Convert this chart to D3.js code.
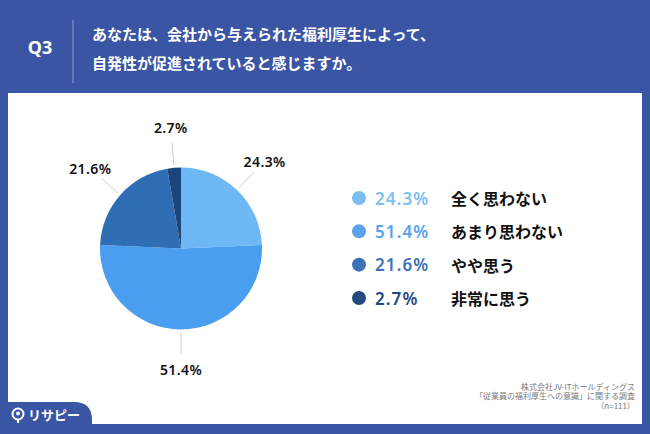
<!DOCTYPE html>
<html>
<head>
<meta charset="utf-8">
<script src="https://cdn.jsdelivr.net/npm/d3@7"></script>
<style>
  body { margin: 0; background: #3a55a3; }
  svg { display: block; font-family: "Noto Sans", "Noto Sans CJK JP", sans-serif; }
</style>
</head>
<body>
<div id="chart"></div>
<script>
// answer categories and shares (%)
const categories = ["全く思わない", "あまり思わない", "やや思う", "非常に思う"];
const values = [24.3, 51.4, 21.6, 2.7];
const colors = ["#6db8f5", "#4a9ef0", "#2f6db4", "#1e457b"];
const legendColors = ["#7cbef2", "#5aa2ec", "#3d72b6", "#23497f"];
const titleLines = ["あなたは、会社から与えられた福利厚生によって、", "自発性が促進されていると感じますか。"];
const sourceLines = ["株式会社JV-ITホールディングス", "「従業員の福利厚生への意識」に関する調査", "（n=111）"];

const width = 650, height = 434;
const blue = "#3a55a3";

const svg = d3.select("#chart").append("svg")
  .attr("width", width)
  .attr("height", height);

svg.append("rect").attr("width", width).attr("height", height).attr("fill", blue);

// white panel
svg.append("rect")
  .attr("x", 8).attr("y", 93)
  .attr("width", 634).attr("height", 331)
  .attr("fill", "#ffffff");

// header
svg.append("text")
  .attr("x", 40).attr("y", 47)
  .attr("text-anchor", "middle")
  .attr("dominant-baseline", "central")
  .attr("fill", "#fff")
  .attr("font-size", 18)
  .attr("font-weight", 700)
  .text("Q3");

svg.append("line")
  .attr("x1", 73).attr("x2", 73)
  .attr("y1", 20).attr("y2", 83)
  .attr("stroke", "#8d9fd0")
  .attr("stroke-width", 1);

svg.selectAll(".title")
  .data(titleLines)
  .enter().append("text")
  .attr("class", "title")
  .attr("x", 92)
  .attr("y", (d, i) => 33 + i * 29)
  .attr("dominant-baseline", "central")
  .attr("fill", "#fff")
  .attr("font-family", "'Noto Sans CJK JP', sans-serif")
  .attr("font-size", 15)
  .attr("font-weight", 700)
  .text(d => d);

// pie
const cx = 181, cy = 248.5, radius = 81;
const pie = d3.pie().sort(null).value(d => d)(values);
const arc = d3.arc().innerRadius(0).outerRadius(radius);

const plot = svg.append("g").attr("transform", `translate(${cx},${cy})`);

plot.selectAll("path")
  .data(pie)
  .enter().append("path")
  .attr("d", arc)
  .attr("fill", (d, i) => colors[i]);

const mid = d => (d.startAngle + d.endAngle) / 2;
const polar = (a, r) => [Math.sin(a) * r, -Math.cos(a) * r];

plot.selectAll(".leader")
  .data(pie)
  .enter().append("line")
  .attr("class", "leader")
  .attr("x1", d => polar(mid(d), radius + 3)[0])
  .attr("y1", d => polar(mid(d), radius + 3)[1])
  .attr("x2", d => polar(mid(d), radius + 25)[0])
  .attr("y2", d => polar(mid(d), radius + 25)[1])
  .attr("stroke", "#cfcfcf")
  .attr("stroke-width", 1);

plot.selectAll(".plabel")
  .data(pie)
  .enter().append("text")
  .attr("class", "plabel")
  .attr("x", d => polar(mid(d), radius + 40)[0])
  .attr("y", d => polar(mid(d), radius + 40)[1])
  .attr("text-anchor", "middle")
  .attr("dominant-baseline", "central")
  .attr("font-size", 14)
  .attr("font-weight", 600)
  .attr("letter-spacing", 0.4)
  .attr("fill", "#111")
  .text(d => d.data.toFixed(1) + "%");

// legend
const legend = svg.append("g");
const rowY = d3.scalePoint().domain(categories).range([198, 298]);

categories.forEach((c, i) => {
  const y = rowY(c);
  legend.append("circle")
    .attr("cx", 359).attr("cy", y).attr("r", 7)
    .attr("fill", legendColors[i]);
  legend.append("text")
    .attr("x", 375).attr("y", y)
    .attr("dominant-baseline", "central")
    .attr("font-size", 17)
    .attr("font-weight", 600)
    .attr("letter-spacing", 1.1)
    .attr("fill", legendColors[i])
    .text(values[i].toFixed(1) + "%");
  legend.append("text")
    .attr("x", 451).attr("y", y)
    .attr("dominant-baseline", "central")
    .attr("font-family", "'Noto Sans CJK JP', sans-serif")
    .attr("font-size", 16)
    .attr("font-weight", 700)
    .attr("fill", "#111")
    .text(c);
});

// source note
svg.selectAll(".source")
  .data(sourceLines)
  .enter().append("text")
  .attr("class", "source")
  .attr("x", 635)
  .attr("y", (d, i) => 386 + i * 9.5)
  .attr("text-anchor", "end")
  .attr("dominant-baseline", "central")
  .attr("font-family", "'Noto Sans CJK JP', sans-serif")
  .attr("font-size", 8)
  .attr("fill", "#7a7a7a")
  .text(d => d);

// logo tab at bottom-left
svg.append("path")
  .attr("d", "M0,402 H74 Q92,402 92,420 V434 H0 Z")
  .attr("fill", blue);

const logo = svg.append("g").attr("transform", "translate(18,414)");
logo.append("circle").attr("r", 5.5).attr("fill", "none").attr("stroke", "#fff").attr("stroke-width", 2);
logo.append("circle").attr("r", 2).attr("cy", -0.5).attr("fill", "#fff");
logo.append("line").attr("x1", 0).attr("x2", 0).attr("y1", 5.5).attr("y2", 9).attr("stroke", "#fff").attr("stroke-width", 2);
svg.append("text")
  .attr("x", 28).attr("y", 414)
  .attr("dominant-baseline", "central")
  .attr("font-family", "'Noto Sans CJK JP', sans-serif")
  .attr("font-size", 13)
  .attr("font-weight", 700)
  .attr("fill", "#fff")
  .text("リサピー");
</script>
</body>
</html>
